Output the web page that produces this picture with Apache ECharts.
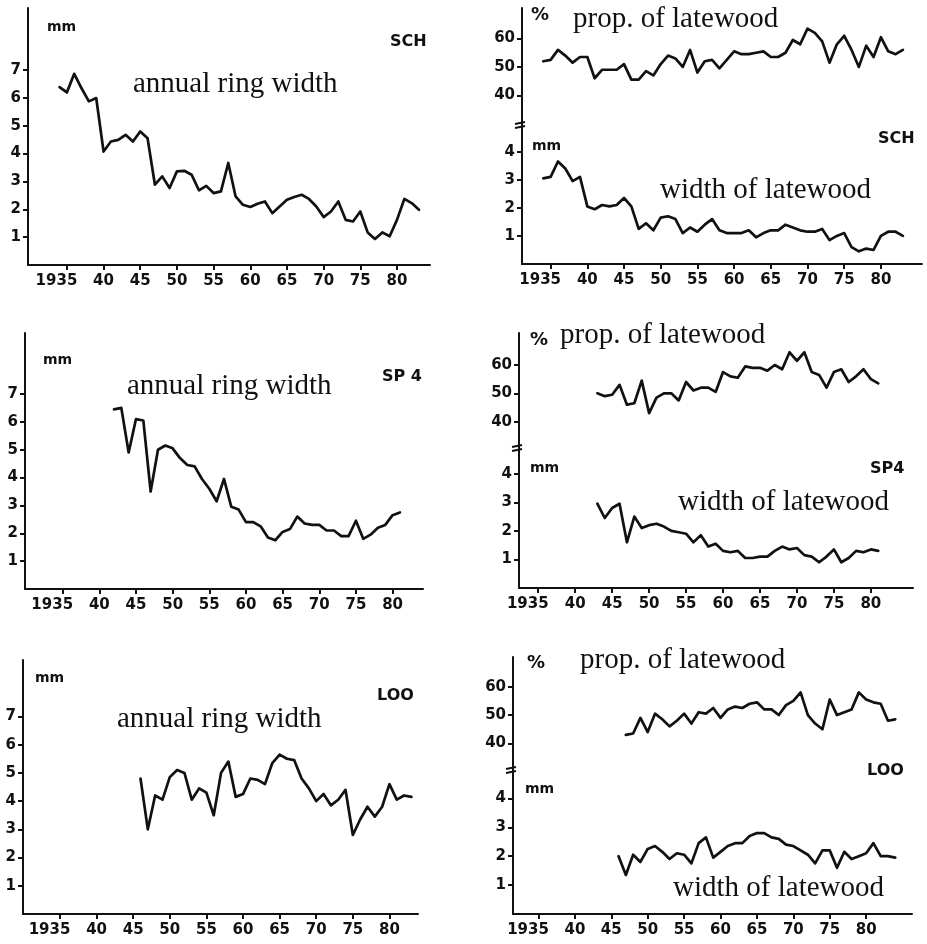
<!DOCTYPE html>
<html><head><meta charset="utf-8">
<script src="https://cdn.jsdelivr.net/npm/echarts@6/dist/echarts.min.js"></script>
<style>html,body{margin:0;padding:0;background:#fff}#c{width:927px;height:944px}</style>
</head><body><div id="c"></div>
<script>
// ---------- data ----------
const xTickYears = [1935, 1940, 1945, 1950, 1955, 1960, 1965, 1970, 1975, 1980];
const xTickLabels = ['1935', '40', '45', '50', '55', '60', '65', '70', '75', '80'];
const ringTicks = [1, 2, 3, 4, 5, 6, 7];
const propTicks = [40, 50, 60];
const lateTicks = [1, 2, 3, 4];

// SCH
const schStart = 1934;
const schRingWidth = [6.38, 6.19, 6.86, 6.34, 5.87, 5.99, 4.07, 4.43, 4.49, 4.67,
  4.43, 4.79, 4.55, 2.88, 3.18, 2.76, 3.36, 3.38, 3.24, 2.68,
  2.84, 2.58, 2.64, 3.66, 2.46, 2.16, 2.08, 2.2, 2.28, 1.86,
  2.1, 2.34, 2.44, 2.52, 2.37, 2.1, 1.72, 1.92, 2.28, 1.62,
  1.56, 1.92, 1.17, 0.93, 1.17, 1.03, 1.62, 2.37, 2.22, 1.98];
const schPropLate = [52, 52.5, 56, 54, 51.5, 53.5, 53.5, 46, 49, 49,
  49, 51, 45.5, 45.5, 48.5, 47, 51, 54, 53, 50,
  56, 48, 52, 52.5, 49.5, 52.5, 55.5, 54.5, 54.5, 55,
  55.5, 53.5, 53.5, 55, 59.5, 58, 63.5, 62, 59, 51.5,
  58, 61, 56, 50, 57.5, 53.5, 60.5, 55.5, 54.5, 56];
const schLateWidth = [3.05, 3.1, 3.65, 3.4, 2.95, 3.1, 2.05, 1.95, 2.1, 2.05,
  2.1, 2.35, 2.05, 1.25, 1.45, 1.2, 1.65, 1.7, 1.6, 1.1,
  1.3, 1.15, 1.4, 1.6, 1.2, 1.1, 1.1, 1.1, 1.2, 0.95,
  1.1, 1.2, 1.2, 1.4, 1.3, 1.2, 1.15, 1.15, 1.25, 0.85,
  1.0, 1.1, 0.6, 0.45, 0.55, 0.5, 1.0, 1.15, 1.15, 1.0];

// SP4
const sp4RingStart = 1942;
const sp4RingWidth = [6.45, 6.5, 4.9, 6.1, 6.05, 3.5, 5.0, 5.15, 5.05, 4.7,
  4.45, 4.4, 3.95, 3.6, 3.15, 3.95, 2.95, 2.85, 2.4, 2.4,
  2.25, 1.85, 1.75, 2.05, 2.15, 2.6, 2.35, 2.3, 2.3, 2.1,
  2.1, 1.9, 1.9, 2.45, 1.8, 1.95, 2.2, 2.3, 2.65, 2.75];
const sp4LateStart = 1943;
const sp4PropLate = [50, 49, 49.5, 53, 46, 46.5, 54.5, 43, 48.5, 50,
  50, 47.5, 54, 51, 52, 52, 50.5, 57.5, 56, 55.5,
  59.5, 59, 59, 58, 60, 58.5, 64.5, 61.5, 64.5, 57.5,
  56.5, 52, 57.5, 58.5, 54, 56, 58.5, 55, 53.5];
const sp4LateWidth = [2.95, 2.45, 2.8, 2.95, 1.6, 2.5, 2.1, 2.2, 2.25, 2.15,
  2.0, 1.95, 1.9, 1.6, 1.85, 1.45, 1.55, 1.3, 1.25, 1.3,
  1.05, 1.05, 1.1, 1.1, 1.3, 1.45, 1.35, 1.4, 1.15, 1.1,
  0.9, 1.1, 1.35, 0.9, 1.05, 1.3, 1.25, 1.35, 1.3];

// LOO
const looRingStart = 1946;
const looRingWidth = [4.8, 3.0, 4.2, 4.05, 4.85, 5.1, 5.0, 4.05, 4.45, 4.3,
  3.5, 5.0, 5.4, 4.15, 4.25, 4.8, 4.75, 4.6, 5.35, 5.65,
  5.5, 5.45, 4.8, 4.45, 4.0, 4.25, 3.85, 4.05, 4.4, 2.8,
  3.35, 3.8, 3.45, 3.8, 4.6, 4.05, 4.2, 4.15];
const looPropStart = 1947;
const looPropLate = [43, 43.5, 49, 44, 50.5, 48.5, 46, 48, 50.5, 47,
  51, 50.5, 52.5, 49, 52, 53, 52.5, 54, 54.5, 52,
  52, 50, 53.5, 55, 58, 50, 47, 45, 55.5, 50,
  51, 52, 58, 55.5, 54.5, 54, 48, 48.5];
const looLateStart = 1946;
const looLateWidth = [2.0, 1.35, 2.05, 1.8, 2.25, 2.35, 2.15, 1.9, 2.1, 2.05,
  1.75, 2.45, 2.65, 1.95, 2.15, 2.35, 2.45, 2.45, 2.7, 2.8,
  2.8, 2.65, 2.6, 2.4, 2.35, 2.2, 2.05, 1.75, 2.2, 2.2,
  1.6, 2.15, 1.9, 2.0, 2.1, 2.45, 2.0, 2.0, 1.95];

// ---------- build ----------
function pairs(start, vals) { return vals.map((v, i) => [start + i, v]); }

const INK = '#111';
const tickFont = { fontFamily: 'DejaVu Sans', fontWeight: 'bold', fontSize: 15, color: INK };

const panels = [
  { g: { left: 28, top: 8, width: 402, height: 257 }, x: [1929.7, 1984.5], y: [0, 9.22], ticks: ringTicks, showX: true, d: pairs(schStart, schRingWidth) },
  { g: { left: 522, top: 8, width: 400, height: 117 }, x: [1931.1, 1985.6], y: [29.5, 70.8], ticks: propTicks, showX: false, d: pairs(schStart, schPropLate) },
  { g: { left: 522, top: 125, width: 400, height: 139 }, x: [1931.1, 1985.6], y: [0, 4.95], ticks: lateTicks, showX: true, d: pairs(schStart, schLateWidth) },
  { g: { left: 25, top: 333, width: 398, height: 256 }, x: [1929.86, 1984.15], y: [0, 9.19], ticks: ringTicks, showX: true, d: pairs(sp4RingStart, sp4RingWidth) },
  { g: { left: 519, top: 333, width: 394, height: 115 }, x: [1932.4, 1985.7], y: [30.7, 71.3], ticks: propTicks, showX: false, d: pairs(sp4LateStart, sp4PropLate) },
  { g: { left: 519, top: 448, width: 394, height: 140 }, x: [1932.4, 1985.7], y: [0, 4.9], ticks: lateTicks, showX: true, d: pairs(sp4LateStart, sp4LateWidth) },
  { g: { left: 23, top: 660, width: 395, height: 254 }, x: [1929.95, 1983.9], y: [0, 9.0], ticks: ringTicks, showX: true, d: pairs(looRingStart, looRingWidth) },
  { g: { left: 513, top: 657, width: 399, height: 113 }, x: [1931.5, 1986.3], y: [30.6, 70.5], ticks: propTicks, showX: false, d: pairs(looPropStart, looPropLate) },
  { g: { left: 513, top: 770, width: 399, height: 144 }, x: [1931.5, 1986.3], y: [0, 4.98], ticks: lateTicks, showX: true, d: pairs(looLateStart, looLateWidth) }
];

const grid = [], xAxis = [], yAxis = [], series = [];
panels.forEach((p, i) => {
  grid.push(Object.assign({ containLabel: false }, p.g));
  xAxis.push({
    type: 'value', gridIndex: i, min: p.x[0], max: p.x[1], show: p.showX,
    axisLine: { show: true, onZero: false, lineStyle: { color: INK, width: 2 } },
    axisTick: { show: true, customValues: xTickYears, length: 5, lineStyle: { color: INK, width: 2 } },
    axisLabel: Object.assign({
      // a blank label at the axis start keeps the min/max overlap check away from "1935"
      customValues: [p.x[0]].concat(xTickYears), margin: 9, hideOverlap: false,
      formatter: v => {
        const k = xTickYears.indexOf(v);
        if (k < 0) return ' ';
        // first label: last two digits sit under the tick, as in the print
        return k === 0 ? xTickLabels[k] + '\u2007\u2007' : xTickLabels[k];
      }
    }, tickFont),
    splitLine: { show: false }
  });
  yAxis.push({
    type: 'value', gridIndex: i, min: p.y[0], max: p.y[1],
    axisLine: { show: true, onZero: false, lineStyle: { color: INK, width: 2 } },
    axisTick: { show: true, customValues: p.ticks, length: 5, lineStyle: { color: INK, width: 2 } },
    axisLabel: Object.assign({ customValues: p.ticks, margin: 7, showMinLabel: true, showMaxLabel: true }, tickFont),
    splitLine: { show: false }
  });
  series.push({
    type: 'line', xAxisIndex: i, yAxisIndex: i, data: p.d, showSymbol: false, symbol: 'none',
    lineStyle: { color: INK, width: 2.7, join: 'round', cap: 'round' }, silent: true, animation: false
  });
});

// ---------- annotations ----------
const serif = { fontFamily: 'Liberation Serif', fontSize: 29, fontWeight: 'normal' };
const sansB = (s) => ({ fontFamily: 'DejaVu Sans', fontWeight: 'bold', fontSize: s });
const notes = [
  ['mm', 47, 27, sansB(14)], ['SCH', 390, 42, sansB(16)], ['annual ring width', 133, 84, serif],
  ['%', 531, 15, sansB(18)], ['prop. of latewood', 573, 19, serif], ['SCH', 878, 139, sansB(16)],
  ['mm', 532, 146, sansB(14)], ['width of latewood', 660, 190, serif],
  ['mm', 43, 360, sansB(14)], ['SP 4', 382, 377, sansB(16)], ['annual ring width', 127, 386, serif],
  ['%', 530, 340, sansB(18)], ['prop. of latewood', 560, 335, serif], ['mm', 530, 468, sansB(14)],
  ['SP4', 870, 469, sansB(16)], ['width of latewood', 678, 502, serif],
  ['mm', 35, 678, sansB(14)], ['LOO', 377, 696, sansB(16)], ['annual ring width', 117, 719, serif],
  ['%', 527, 663, sansB(18)], ['prop. of latewood', 580, 660, serif], ['LOO', 867, 771, sansB(16)],
  ['mm', 525, 789, sansB(14)], ['width of latewood', 673, 888, serif]
];
const graphic = notes.map(n => ({
  type: 'text', silent: true,
  style: Object.assign({ text: n[0], x: n[1], y: n[2], fill: INK, align: 'left', verticalAlign: 'middle' }, n[3])
}));
// axis-break marks on the right-hand panels
[[522, 125], [519, 448], [513, 770]].forEach(b => {
  [-2, 2].forEach(dy => graphic.push({
    type: 'line', silent: true,
    shape: { x1: b[0] - 7, y1: b[1] + dy + 1, x2: b[0] + 3, y2: b[1] + dy - 1 },
    style: { stroke: INK, lineWidth: 2 }
  }));
});

const chart = echarts.init(document.getElementById('c'), null, { renderer: 'canvas' });
chart.setOption({ backgroundColor: '#fff', animation: false, grid, xAxis, yAxis, series, graphic });
</script></body></html>
